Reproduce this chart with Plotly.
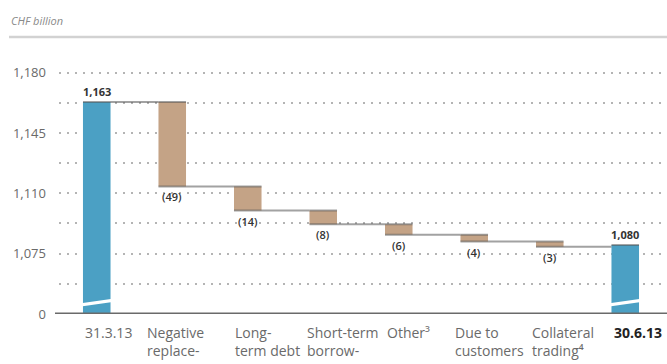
import plotly.graph_objects as go

# Balance-sheet liability bridge, CHF billion
categories = ["31.3.13", "Negative replace-ment values", "Long-term debt",
              "Short-term borrowings", "Other³", "Due to customers",
              "Collateral trading⁴", "30.6.13"]
axis_labels = ["31.3.13", "Negative<br>replace-", "Long-<br>term debt",
               "Short-term<br>borrow-", "Other³", "Due to<br>customers",
               "Collateral<br>trading⁴", "<b>30.6.13</b>"]
measures = ["absolute", "relative", "relative", "relative", "relative",
            "relative", "relative", "absolute"]
values = [1163, -49, -14, -8, -6, -4, -3, 1080]

# Broken value axis: the "0" baseline is drawn at 1,040
axis_floor = 1040
tick_vals = [1040, 1057.5, 1075, 1092.5, 1110, 1127.5, 1145, 1162.5, 1180]
tick_text = ["0", "", "1,075", "", "1,110", "", "1,145", "", "1,180"]

W, H = 667, 364
ML, MR, MT, MB = 59, 4, 64, 50
PW, PH = W - ML - MR, H - MT - MB

BLUE = "#4ba0c4"
TAN = "#c4a386"
BAR_W = 0.365


def px_to_paper_x(px):
    return (px - ML) / PW


def px_to_paper_y(py):
    return (H - MB - py) / PH


fig = go.Figure()
fig.add_trace(go.Waterfall(
    x=list(range(len(categories))),
    y=values,
    measure=measures,
    width=BAR_W,
    totals=dict(marker=dict(color=BLUE)),
    decreasing=dict(marker=dict(color=TAN)),
    increasing=dict(marker=dict(color=TAN)),
    connector=dict(mode="spanning", line=dict(color="rgba(85,85,85,0.55)", width=2)),
    hovertext=categories,
    showlegend=False,
))

annotations = []
shapes = []

# value labels
level = 0
for i, (m, v) in enumerate(zip(measures, values)):
    if m == "absolute":
        level = v
        annotations.append(dict(
            x=i, y=level, xref="x", yref="y", text=f"<b>{v:,}</b>",
            showarrow=False, yanchor="bottom", yshift=1,
            font=dict(size=11, color="#333333")))
    else:
        level += v
        annotations.append(dict(
            x=i, y=level, xref="x", yref="y", text=f"({abs(v)})",
            showarrow=False, yanchor="top", yshift=-1,
            font=dict(size=11, color="#333333", weight=600)))

# category labels, left-aligned blocks
label_shift_px = [-13.5, -27, -14.5, -18, -13.5, -21, -19.5, -13]
for i, (lab, sh) in enumerate(zip(axis_labels, label_shift_px)):
    annotations.append(dict(
        x=i, y=0, xref="x", yref="paper", text=lab, showarrow=False,
        xanchor="left", yanchor="top", align="left", xshift=sh, yshift=-7,
        font=dict(size=14, color="#222222" if i == len(axis_labels) - 1 else "#6a6a6a")))

# unit caption and header rule
annotations.append(dict(
    x=px_to_paper_x(9), y=px_to_paper_y(20), xref="paper", yref="paper",
    text="<i>CHF billion</i>", showarrow=False, xanchor="left", yanchor="middle",
    font=dict(size=11, color="#8a8a8a")))
shapes.append(dict(
    type="line", xref="paper", yref="paper",
    x0=px_to_paper_x(9), x1=px_to_paper_x(W + 2),
    y0=px_to_paper_y(37), y1=px_to_paper_y(37),
    line=dict(color="#d2d2d2", width=2.5)))

# axis break marks on the two total bars
for i, m in enumerate(measures):
    if m == "absolute":
        x0, x1 = i - 0.21, i + 0.21
        path = (f"M {x0},1044.4 L {x1},1047.0 L {x1},1048.8 "
                f"L {x0},1046.2 Z")
        shapes.append(dict(type="path", xref="x", yref="y", path=path,
                           fillcolor="white", line=dict(width=0), layer="above"))

# baseline
shapes.append(dict(
    type="line", xref="paper", yref="y",
    x0=px_to_paper_x(55), x1=px_to_paper_x(W + 2), y0=axis_floor, y1=axis_floor,
    line=dict(color="#6a6a6a", width=3), layer="above"))

fig.update_layout(
    width=W, height=H,
    margin=dict(l=ML, r=MR, t=MT, b=MB, pad=0),
    paper_bgcolor="white", plot_bgcolor="white",
    font=dict(family="Open Sans", color="#6a6a6a"),
    xaxis=dict(range=[-0.5, len(categories) - 0.5], showticklabels=False,
               showgrid=False, zeroline=False, showline=False, fixedrange=True),
    yaxis=dict(range=[axis_floor, 1185], tickmode="array", tickvals=tick_vals,
               ticktext=tick_text, showgrid=True, gridcolor="#b4b4b4", gridwidth=2,
               griddash="2px,6px", zeroline=False, showline=False, ticks="",
               ticklabelstandoff=12, tickfont=dict(size=13, color="#6a6a6a"),
               fixedrange=True),
    annotations=annotations,
    shapes=shapes,
)

fig.write_html("out.html")
